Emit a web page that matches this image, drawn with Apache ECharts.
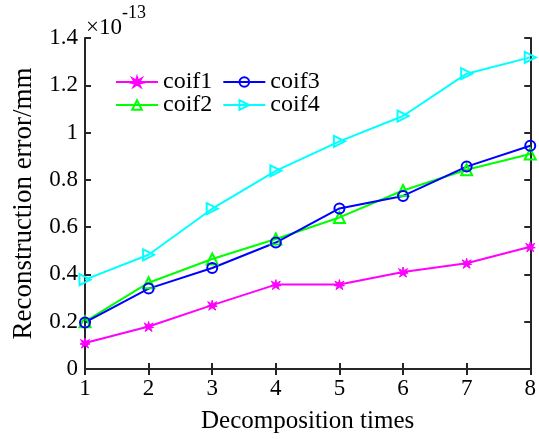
<!DOCTYPE html>
<html><head><meta charset="utf-8">
<script src="https://cdn.jsdelivr.net/npm/echarts@6/dist/echarts.min.js"></script>
<style>html,body{margin:0;padding:0;background:#fff}#c{width:539px;height:439px}</style>
</head><body><div id="c"></div>
<script>
const xValues = [1, 2, 3, 4, 5, 6, 7, 8];
const coif1 = [0.11, 0.18, 0.27, 0.357, 0.357, 0.41, 0.447, 0.517];
const coif2 = [0.20, 0.365, 0.465, 0.55, 0.641, 0.755, 0.843, 0.909];
const coif3 = [0.197, 0.34, 0.427, 0.535, 0.679, 0.732, 0.856, 0.944];
const coif4 = [0.378, 0.483, 0.678, 0.838, 0.963, 1.07, 1.249, 1.318];
const FONT = '"Liberation Serif", "Times New Roman", serif';
const ink = '#262626';

const starPath = 'path://M5,0 L6,3.6 L9.5,1.5 L7.4,5 L10,6 L7,6.6 L8.5,10 L5,7.6 L1.5,10 L3,6.6 L0,6 L2.6,5 L0.5,1.5 L4,3.6 Z';
const rightTri = 'path://M0,0 L10,5 L0,10 Z';

function mk(name, data, color, symbol, size, filled) {
  return {
    name, type: 'line', data: xValues.map((x, i) => [x, data[i]]),
    symbol, symbolSize: size, showAllSymbol: true,
    lineStyle: { color, width: 2 },
    itemStyle: filled ? { color, borderColor: color, borderWidth: 1 } : { color: 'rgba(0,0,0,0)', borderColor: color, borderWidth: 2 },
    emphasis: { disabled: true }, animation: false, z: 3
  };
}

const chart = echarts.init(document.getElementById('c'), null, { renderer: 'canvas' });
const legendText = { fontFamily: FONT, fontSize: 24, color: '#000' };
chart.setOption({
  backgroundColor: '#fff',
  animation: false,
  grid: { left: 85, right: 7, top: 38, bottom: 67, containLabel: false },
  legend: [
    { data: ['coif1', 'coif3'], left: 110, top: 65, itemWidth: 42, itemHeight: 12, itemGap: 10, textStyle: legendText },
    { data: ['coif2', 'coif4'], left: 110, top: 88, itemWidth: 42, itemHeight: 12, itemGap: 10, textStyle: legendText }
  ],
  xAxis: [
    { type: 'value', min: 1, max: 8, interval: 1, position: 'bottom',
      name: 'Decomposition times', nameLocation: 'middle', nameGap: 40,
      nameTextStyle: { fontFamily: FONT, fontSize: 25, color: '#000' },
      axisLine: { lineStyle: { color: ink, width: 2 } },
      axisTick: { inside: true, length: 6, lineStyle: { color: ink, width: 2 } },
      axisLabel: { fontFamily: FONT, fontSize: 23, color: '#000', margin: 8 },
      splitLine: { show: false } },
    { type: 'value', min: 1, max: 8, interval: 1, position: 'top',
      axisLine: { lineStyle: { color: ink, width: 2 } },
      axisTick: { inside: true, length: 6, lineStyle: { color: ink, width: 2 } },
      axisLabel: { show: false }, splitLine: { show: false } }
  ],
  yAxis: [
    { type: 'value', min: 0, max: 1.4, interval: 0.2, position: 'left',
      name: 'Reconstruction error/mm', nameLocation: 'middle', nameGap: 48,
      nameTextStyle: { fontFamily: FONT, fontSize: 27, color: '#000' },
      axisLine: { lineStyle: { color: ink, width: 2 } },
      axisTick: { inside: true, length: 6, lineStyle: { color: ink, width: 2 } },
      axisLabel: { fontFamily: FONT, fontSize: 23, color: '#000', margin: 7,
        formatter: v => String(Math.round(v * 10) / 10) },
      splitLine: { show: false } },
    { type: 'value', min: 0, max: 1.4, interval: 0.2, position: 'right',
      axisLine: { lineStyle: { color: ink, width: 2 } },
      axisTick: { inside: true, length: 6, lineStyle: { color: ink, width: 2 } },
      axisLabel: { show: false }, splitLine: { show: false } }
  ],
  graphic: [
    { type: 'text', left: 86, top: 4, style: {
        text: '{a|×10}{b|-13}', rich: {
          a: { fontFamily: FONT, fontSize: 23, color: '#000', verticalAlign: 'bottom', padding: [12, 0, 0, 0] },
          b: { fontFamily: FONT, fontSize: 18, color: '#000', verticalAlign: 'top', padding: [0, 0, 10, 0] } } } }
  ],
  series: [
    mk('coif1', coif1, '#FF00FF', starPath, 10, true),
    mk('coif2', coif2, '#00FF00', 'triangle', 11, false),
    mk('coif3', coif3, '#0000FF', 'circle', 10, false),
    mk('coif4', coif4, '#00FFFF', rightTri, 11, false)
  ]
});
</script></body></html>
